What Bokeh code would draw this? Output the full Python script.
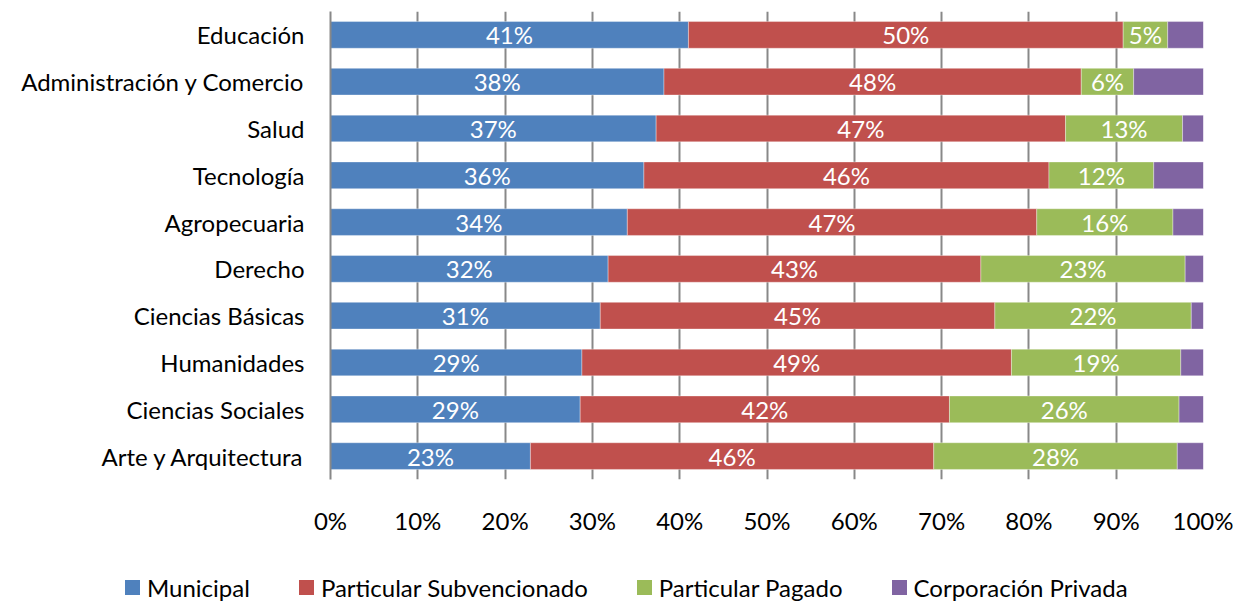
from bokeh.plotting import figure
from bokeh.models import ColumnDataSource, FactorRange, Range1d, FixedTicker, Div
from bokeh.layouts import column
from bokeh.core.properties import value
from bokeh.embed import file_html
from bokeh.resources import INLINE

categories = ["Educación", "Administración y Comercio", "Salud", "Tecnología", "Agropecuaria",
              "Derecho", "Ciencias Básicas", "Humanidades", "Ciencias Sociales", "Arte y Arquitectura"]
municipal = [41.0, 38.2, 37.3, 35.9, 34.0, 31.8, 30.9, 28.8, 28.6, 22.9]
subvencionado = [49.8, 47.8, 46.9, 46.4, 46.9, 42.7, 45.2, 49.2, 42.3, 46.2]
pagado = [5.1, 6.0, 13.4, 12.0, 15.6, 23.4, 22.5, 19.4, 26.3, 27.9]
corporacion = [4.1, 8.0, 2.4, 5.7, 3.5, 2.1, 1.4, 2.6, 2.8, 3.0]
series_names = ["Municipal", "Particular Subvencionado", "Particular Pagado", "Corporación Privada"]
colors = ["#4F81BD", "#C0504D", "#9BBB59", "#8064A2"]
x_ticks = [0, 10, 20, 30, 40, 50, 60, 70, 80, 90, 100]
tick_labels = ["0%", "10%", "20%", "30%", "40%", "50%", "60%", "70%", "80%", "90%", "100%"]

FONT = "Lato"
FS = "24px"
keys = ["mun", "sub", "pag", "cor"]
data = dict(cat=categories, mun=municipal, sub=subvencionado, pag=pagado, cor=corporacion)
src = ColumnDataSource(data)

p = figure(y_range=FactorRange(factors=list(reversed(categories))), x_range=Range1d(0, 100),
           frame_width=873, frame_height=468, output_backend="svg", toolbar_location=None,
           min_border_left=330, min_border_right=30, min_border_top=11, min_border_bottom=62)
p.outline_line_color = None
p.background_fill_color = "white"

renderers = p.hbar_stack(keys, y="cat", height=0.57, color=colors, source=src,
                         line_color="white", line_alpha=0.35, line_width=1)

# data labels (centered in each of the first three segments)
for i, k in enumerate(keys[:3]):
    xs, ts = [], []
    for j in range(len(categories)):
        start = sum(data[kk][j] for kk in keys[:i])
        v = data[k][j]
        xs.append(start + v / 2)
        ts.append(f"{round(v)}%")
    lsrc = ColumnDataSource(dict(x=xs, y=categories, t=ts))
    p.text(x="x", y="y", text="t", source=lsrc, text_color="white", text_font=value(FONT),
           text_font_size=FS, text_align="center", text_baseline="middle")

# axes
p.xaxis.ticker = FixedTicker(ticks=x_ticks)
p.xaxis.major_label_overrides = {t: l for t, l in zip(x_ticks, tick_labels)}
p.xaxis.axis_line_color = None
p.xaxis.major_tick_line_color = None
p.xaxis.minor_tick_line_color = None
p.xaxis.major_tick_out = 0
p.xaxis.major_label_standoff = 26
p.xaxis.major_label_text_font = FONT
p.xaxis.major_label_text_font_size = FS
p.xaxis.major_label_text_color = "black"

p.yaxis.axis_line_color = "#888888"
p.yaxis.axis_line_width = 2
p.yaxis.major_tick_line_color = None
p.yaxis.major_tick_out = 0
p.yaxis.major_label_standoff = 26
p.yaxis.major_label_text_font = FONT
p.yaxis.major_label_text_font_size = FS
p.yaxis.major_label_text_color = "black"

p.ygrid.grid_line_color = None
p.xgrid.ticker = FixedTicker(ticks=x_ticks)
p.xgrid.grid_line_color = "#888888"
p.xgrid.grid_line_width = 2

# legend strip (HTML) below the chart
items_html = "".join(
    f'<div style="display:flex;align-items:center;margin-right:49px;">'
    f'<span style="display:inline-block;width:15px;height:15px;background:{c};margin-right:7px;"></span>'
    f'<span>{n}</span></div>'
    for n, c in zip(series_names, colors))
legend_div = Div(
    text=(f'<div style="display:flex;align-items:center;box-sizing:border-box;padding-left:125px;'
          f'padding-top:33px;height:60px;line-height:27px;font-family:{FONT};font-size:{FS};'
          f'color:black;white-space:nowrap;">{items_html}</div>'),
    width=1233, height=60, margin=0)

open("out.html", "w").write(file_html(column(p, legend_div, spacing=0), INLINE))
